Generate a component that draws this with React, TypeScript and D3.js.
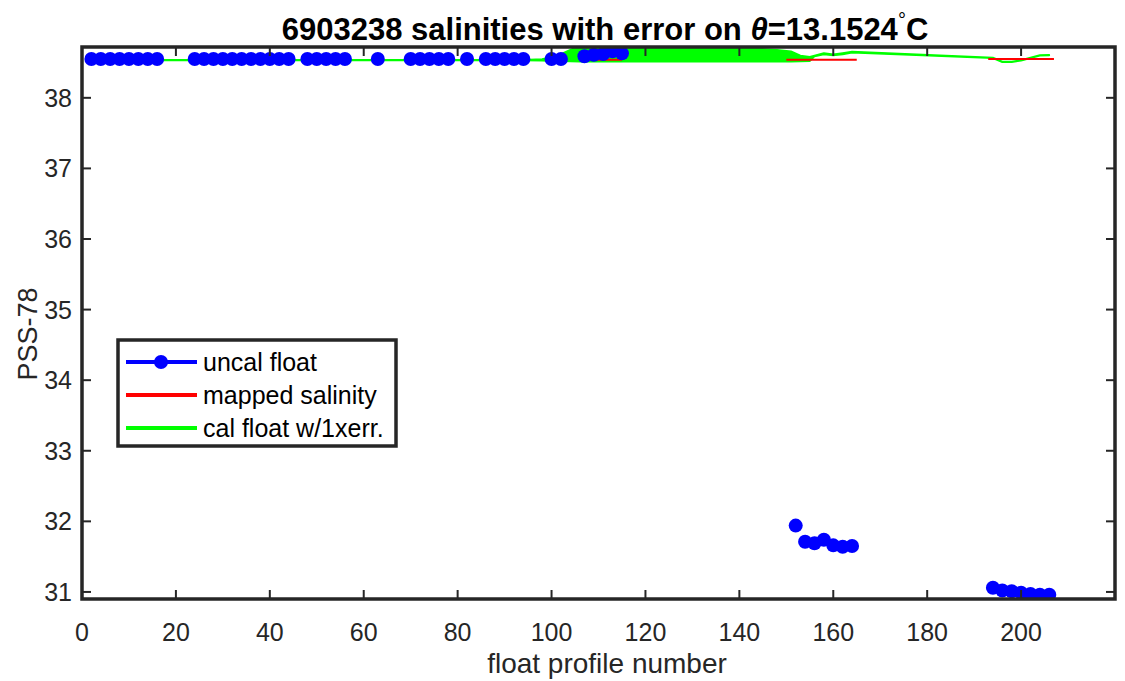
import React from "react";
import * as d3 from "d3";

// ---------- data ----------
const uncalProfile = [
  2, 4, 6, 8, 10, 12, 14, 16,
  24, 26, 28, 30, 32, 34, 36, 38, 40, 42, 44,
  48, 50, 52, 54, 56,
  63,
  70, 72, 74, 76, 78,
  82,
  86, 88, 90, 92, 94,
  100, 102,
  107, 109, 111, 113, 115,
  152, 154, 156, 158, 160, 162, 164,
  194, 196, 198, 200, 202, 204, 206,
];
const uncalSal = [
  38.55, 38.55, 38.55, 38.55, 38.55, 38.55, 38.55, 38.55,
  38.55, 38.55, 38.55, 38.55, 38.55, 38.55, 38.55, 38.55, 38.55, 38.55, 38.55,
  38.55, 38.55, 38.55, 38.55, 38.55,
  38.55,
  38.55, 38.55, 38.55, 38.55, 38.55,
  38.55,
  38.55, 38.55, 38.55, 38.55, 38.55,
  38.55, 38.55,
  38.59, 38.61, 38.62, 38.66, 38.63,
  31.94, 31.71, 31.69, 31.74, 31.66, 31.64, 31.65,
  31.06, 31.02, 31.01, 30.99, 30.97, 30.96, 30.96,
];

const mappedProfile = [107, 109, 111, 113, 115, NaN, 150, 152, 154, 156, 158, 160, 162, 165, NaN, 193, 196, 198, 200, 202, 204, 207];
const mappedSal = [38.54, 38.54, 38.54, 38.54, 38.54, NaN, 38.54, 38.54, 38.54, 38.54, 38.54, 38.54, 38.54, 38.54, NaN, 38.55, 38.55, 38.55, 38.55, 38.55, 38.55, 38.55];

const calProfile = [2, 16, 24, 44, 48, 56, 63, 70, 78, 82, 86, 94, 98, 100, 102, 104, 106, 110, 120, 130, 140, 148, 151, 153, 155, 156, 158, 160, 162, 164, 194, 196, 198, 200, 202, 204, 206];
const calLo = [38.53, 38.53, 38.53, 38.53, 38.53, 38.53, 38.53, 38.53, 38.53, 38.53, 38.53, 38.53, 38.525, 38.52, 38.52, 38.515, 38.51, 38.51, 38.51, 38.51, 38.51, 38.51, 38.51, 38.515, 38.52, 38.585, 38.615, 38.6, 38.615, 38.64, 38.56, 38.505, 38.505, 38.525, 38.56, 38.595, 38.6];
const calHi = [38.54, 38.54, 38.54, 38.54, 38.54, 38.54, 38.54, 38.54, 38.54, 38.54, 38.54, 38.54, 38.55, 38.58, 38.62, 38.68, 38.74, 38.78, 38.78, 38.76, 38.72, 38.68, 38.66, 38.6, 38.58, 38.6, 38.635, 38.615, 38.635, 38.655, 38.57, 38.515, 38.515, 38.535, 38.57, 38.605, 38.61];

const xTicks = [0, 20, 40, 60, 80, 100, 120, 140, 160, 180, 200];
const yTicks = [31, 32, 33, 34, 35, 36, 37, 38];

const legendLabels = ["uncal float", "mapped salinity", "cal float w/1xerr."];
const legendColors = ["#0000ff", "#ff0000", "#00ff00"];

// ---------- layout ----------
const W = 1125;
const H = 681;
const L = 82, R = 1115, T = 47, B = 599;
const AX = "#262626";
const FONT = "'Liberation Sans', Arial, Helvetica, sans-serif";

export default function App() {
  const x = d3.scaleLinear().domain([0, 220]).range([L, R]);
  const y = d3.scaleLinear().domain([30.9, 38.72]).range([B, T]);

  const area = d3
    .area<number>()
    .x((i) => x(calProfile[i]))
    .y0((i) => y(calLo[i]))
    .y1((i) => y(calHi[i]));
  const idx = calProfile.map((_, i) => i);

  const redLine = d3
    .line<number>()
    .defined((i) => !isNaN(mappedProfile[i]) && !isNaN(mappedSal[i]))
    .x((i) => x(mappedProfile[i]))
    .y((i) => y(mappedSal[i]));
  const ridx = mappedProfile.map((_, i) => i);

  const tickLen = 9;

  return (
    <svg
      width={W}
      height={H}
      style={{ position: "absolute", left: 0, top: 0, background: "#fff" }}
      fontFamily={FONT}
    >
      <defs>
        <clipPath id="plotclip">
          <rect x={L} y={T} width={R - L} height={B - T} />
        </clipPath>
      </defs>
      <rect x={0} y={0} width={W} height={H} fill="#fff" />

      {/* data */}
      <g clipPath="url(#plotclip)">
        <path d={area(idx) || ""} fill="#00ff00" stroke="#00ff00" strokeWidth={1.6} strokeLinejoin="round" />
        <path d={redLine(ridx) || ""} fill="none" stroke="#ff0000" strokeWidth={2} />
        {uncalProfile.map((p, i) => (
          <circle key={"u" + i} cx={x(p)} cy={y(uncalSal[i])} r={7} fill="#0000ff" />
        ))}
      </g>

      {/* ticks */}
      <g stroke={AX} strokeWidth={2}>
        {xTicks.map((t) => (
          <g key={"xt" + t}>
            <line x1={x(t)} x2={x(t)} y1={B} y2={B - tickLen} />
            <line x1={x(t)} x2={x(t)} y1={T} y2={T + tickLen} />
          </g>
        ))}
        {yTicks.map((t) => (
          <g key={"yt" + t}>
            <line x1={L} x2={L + tickLen} y1={y(t)} y2={y(t)} />
            <line x1={R} x2={R - tickLen} y1={y(t)} y2={y(t)} />
          </g>
        ))}
      </g>

      {/* box */}
      <rect x={L} y={T} width={R - L} height={B - T} fill="none" stroke={AX} strokeWidth={3.5} />

      {/* tick labels */}
      <g fontSize={25} fill={AX}>
        {xTicks.map((t) => (
          <text key={"xl" + t} x={x(t)} y={641} textAnchor="middle">
            {t}
          </text>
        ))}
        {yTicks.map((t) => (
          <text key={"yl" + t} x={72} y={y(t) + 9} textAnchor="end">
            {t}
          </text>
        ))}
      </g>

      {/* axis titles */}
      <text x={607} y={673} textAnchor="middle" fontSize={28} fill={AX}>
        float profile number
      </text>
      <text
        transform={`translate(37, 334) rotate(-90)`}
        textAnchor="middle"
        fontSize={27}
        fill={AX}
      >
        PSS-78
      </text>

      {/* title */}
      <text x={605} y={40} textAnchor="middle" fontSize={31} fontWeight="bold" fill="#000">
        6903238 salinities with error on{" "}
        <tspan fontStyle="italic">θ</tspan>
        =13.1524
        <tspan fontSize={20} dy={-13} fontWeight="normal">°</tspan>
        <tspan dy={13}>C</tspan>
      </text>

      {/* legend */}
      <g>
        <rect x={118} y={340} width={278} height={106} fill="#fff" stroke={AX} strokeWidth={3.5} />
        {legendLabels.map((lab, i) => {
          const ly = 362 + i * 33;
          return (
            <g key={"lg" + i}>
              <line x1={126} x2={197} y1={ly} y2={ly} stroke={legendColors[i]} strokeWidth={4} />
              {i === 0 && <circle cx={161} cy={ly} r={7} fill="#0000ff" />}
              <text x={203} y={ly + 9} fontSize={25} fill="#000">
                {lab}
              </text>
            </g>
          );
        })}
      </g>
    </svg>
  );
}
